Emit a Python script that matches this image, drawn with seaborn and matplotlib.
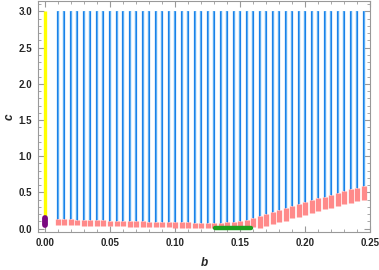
import numpy as np
import matplotlib
matplotlib.use("Agg")
import matplotlib.pyplot as plt
import seaborn as sns
from matplotlib.ticker import MultipleLocator

# b values of the vertical lines
b_vals = [round(0.01 + 0.005 * i, 3) for i in range(48)]

# pink band (lower / upper c) for each b
pink_top = [0.13, 0.128, 0.126, 0.124, 0.121, 0.118, 0.116, 0.113, 0.11, 0.108,
            0.105, 0.103, 0.10, 0.098, 0.096, 0.094, 0.092, 0.09, 0.088, 0.086,
            0.085, 0.083, 0.082, 0.081, 0.082, 0.084, 0.088, 0.093, 0.10, 0.125,
            0.15, 0.174, 0.202, 0.23, 0.257, 0.29, 0.308, 0.34, 0.368, 0.391,
            0.419, 0.443, 0.47, 0.492, 0.52, 0.548, 0.567, 0.589]
pink_bot = [0.05, 0.048, 0.046, 0.044, 0.042, 0.04, 0.038, 0.036, 0.034, 0.032,
            0.03, 0.028, 0.026, 0.024, 0.022, 0.02, 0.018, 0.016, 0.014, 0.012,
            0.011, 0.01, 0.01, 0.01, 0.01, 0.01, 0.01, 0.012, 0.015, 0.018,
            0.02, 0.01, 0.03, 0.06, 0.085, 0.11, 0.14, 0.165, 0.19, 0.215,
            0.24, 0.265, 0.29, 0.31, 0.335, 0.36, 0.385, 0.40]
c_max = 3.0

# b = 0 line (yellow) and blob (purple)
yellow_range = [0.15, 3.0]
purple_range = [0.05, 0.14]

# green segment along the bottom
green_b = [0.131, 0.158]
green_c = [0.01, 0.01]

sns.set_style("ticks")
plt.rcParams["font.family"] = ["Liberation Sans", "DejaVu Sans"]

fig = plt.figure(figsize=(3.79, 2.70), dpi=100)
ax = fig.add_axes([0.1, 0.14, 0.877, 0.855])

# blue lines: light body with a darker stripe on the left
ax.vlines(b_vals, pink_top, c_max, color="#5aacf2", lw=1.7, zorder=2)
ax.vlines([b - 0.0004 for b in b_vals], pink_top, c_max, color="#1a80e8", lw=0.7, zorder=2)
ax.vlines(b_vals, pink_bot, pink_top, color="#ff8a8a", lw=3.8, zorder=3)
ax.vlines([0.0], yellow_range[0], yellow_range[1], color="#ffff00", lw=2.4, zorder=2)
ax.vlines([0.0], purple_range[0], purple_range[1], color="#7a0a80", lw=4.2,
          capstyle="round", zorder=4)
sns.lineplot(x=green_b, y=green_c, color="#1ea01e", lw=3.2, ax=ax, zorder=5)

ax.set_xlim(-0.0054, 0.25)
ax.set_ylim(-0.05, 3.14)
ax.xaxis.set_major_locator(MultipleLocator(0.05))
ax.xaxis.set_minor_locator(MultipleLocator(0.01))
ax.yaxis.set_major_locator(MultipleLocator(0.5))
ax.yaxis.set_minor_locator(MultipleLocator(0.1))
ax.xaxis.set_major_formatter(plt.FormatStrFormatter("%.2f"))
ax.yaxis.set_major_formatter(plt.FormatStrFormatter("%.1f"))

ax.tick_params(which="both", direction="in", top=True, right=True, color="#999999")
ax.tick_params(which="major", length=4, width=0.8, labelsize=7, pad=4)
ax.tick_params(which="minor", length=2, width=0.6)
for lab in ax.get_xticklabels() + ax.get_yticklabels():
    lab.set_fontweight("bold")
for sp in ax.spines.values():
    sp.set_color("#999999")
    sp.set_linewidth(0.8)

ax.set_xlabel("b", fontsize=8.5, fontweight="bold", fontstyle="italic", labelpad=7)
ax.set_ylabel("c", fontsize=8.5, fontweight="bold", fontstyle="italic", labelpad=2)

fig.savefig("out.png", dpi=100)
